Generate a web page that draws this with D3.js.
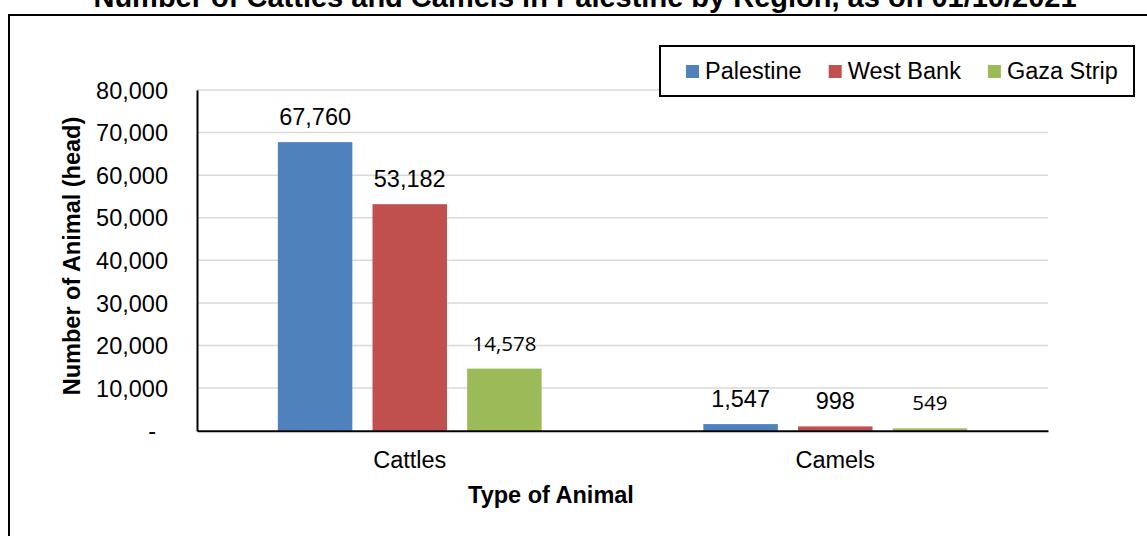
<!DOCTYPE html>
<html>
<head>
<meta charset="utf-8">
<script src="https://cdn.jsdelivr.net/npm/d3@7"></script>
<style>
  body { margin: 0; background: #fff; }
  svg { display: block; font-family: "Liberation Sans", Arial, sans-serif; }
</style>
</head>
<body>
<script>
/* DATA */
const categories = ["Cattles", "Camels"];
const seriesNames = ["Palestine", "West Bank", "Gaza Strip"];
const palestine = [67760, 1547];
const westBank = [53182, 998];
const gazaStrip = [14578, 549];
const yTicks = [0, 10000, 20000, 30000, 40000, 50000, 60000, 70000, 80000];

/* CONSTANTS */
const width = 1147;
const height = 536;
const margin = { top: 90, bottom: 105, left: 197, right: 99 };
const colors = ["#4F81BD", "#C0504D", "#9BBB59"];
const fontSize = 23.5;

// table built from the arrays above
const series = [palestine, westBank, gazaStrip];
const rows = categories.map((c, i) => ({
  cat: c,
  vals: seriesNames.map((s, j) => ({ name: s, value: series[j][i], idx: j }))
}));

const svg = d3.select("body").append("svg")
  .attr("width", width)
  .attr("height", height);

// outer chart border (runs off the right/bottom like the original)
svg.append("rect")
  .attr("x", 9).attr("y", 15)
  .attr("width", 1160).attr("height", 560)
  .attr("fill", "none")
  .attr("stroke", "#000")
  .attr("stroke-width", 2);

// title, mostly clipped at the top
svg.append("text")
  .attr("x", 585).attr("y", 7)
  .attr("text-anchor", "middle")
  .attr("font-weight", "bold")
  .attr("font-size", 29)
  .text("Number of Cattles and Camels in Palestine by Region, as on 01/10/2021");

//SCALES
const x0 = d3.scaleBand()
  .domain(categories)
  .range([margin.left, width - margin.right])
  .paddingInner(0.38)
  .paddingOuter(0.19);

const x1 = d3.scaleBand()
  .domain(seriesNames)
  .range([0, x0.bandwidth()])
  .paddingInner(0.213);

const y = d3.scaleLinear()
  .domain([0, 80000])
  .range([height - margin.bottom - 0.3, margin.top]);

//GRIDLINES
svg.append("g")
  .selectAll("line")
  .data(yTicks.filter(d => d > 0))
  .join("line")
  .attr("x1", margin.left)
  .attr("x2", width - margin.right)
  .attr("y1", d => y(d))
  .attr("y2", d => y(d))
  .attr("stroke", "#D9D9D9")
  .attr("stroke-width", 1.5);

//BARS
const groups = svg.append("g")
  .selectAll("g")
  .data(rows)
  .join("g")
  .attr("transform", d => "translate(" + x0(d.cat) + ",0)");

groups.selectAll("rect")
  .data(d => d.vals)
  .join("rect")
  .attr("x", d => x1(d.name))
  .attr("width", x1.bandwidth())
  .attr("y", d => y(d.value))
  .attr("height", d => y(0) - y(d.value))
  .attr("fill", d => colors[d.idx]);

// value labels - gaza labels are in a different font in the original
groups.selectAll("text")
  .data(d => d.vals)
  .join("text")
  .attr("x", d => x1(d.name) + x1.bandwidth() / 2)
  .attr("y", d => y(d.value) - (d.idx === 2 ? 18 : 17))
  .attr("text-anchor", "middle")
  .attr("font-size", d => d.idx === 2 ? 20.5 : fontSize)
  .attr("font-family", d => d.idx === 2 ? "'Open Sans', sans-serif" : null)
  .attr("fill", "#000")
  .text(d => d3.format(",")(d.value));

//Y-AXIS
const yAxis = d3.axisLeft(y)
  .tickValues(yTicks)
  .tickSize(0)
  .tickSizeOuter(0)
  .tickPadding(29)
  .tickFormat(d => d === 0 ? "-" : d3.format(",")(d));

const gy = svg.append("g")
  .attr("transform", "translate(" + margin.left + ",0)")
  .call(yAxis)
  .attr("font-family", null)
  .attr("font-size", null);
gy.select(".domain").attr("stroke", "#000").attr("stroke-width", 2);
gy.selectAll("text")
  .attr("font-size", fontSize)
  .attr("fill", "#000")
  .attr("dy", "0.35em")
  .attr("dx", d => d === 0 ? -12 : 0);

//X-AXIS
const xAxis = d3.axisBottom(x0)
  .tickSize(0)
  .tickSizeOuter(0);

const gx = svg.append("g")
  .attr("transform", "translate(0," + y(0) + ")")
  .call(xAxis)
  .attr("font-family", null)
  .attr("font-size", null);
gx.select(".domain").attr("stroke", "#000").attr("stroke-width", 2);
gx.selectAll("text")
  .attr("font-size", fontSize)
  .attr("fill", "#000")
  .attr("y", 37)
  .attr("dy", 0);

//AXIS TITLES
svg.append("text")
  .attr("transform", "translate(80,256) rotate(-90)")
  .attr("text-anchor", "middle")
  .attr("font-weight", "bold")
  .attr("font-size", fontSize)
  .text("Number of Animal (head)");

svg.append("text")
  .attr("x", 551).attr("y", 503)
  .attr("text-anchor", "middle")
  .attr("font-weight", "bold")
  .attr("font-size", fontSize)
  .text("Type of Animal");

//LEGEND
const legend = svg.append("g");
legend.append("rect")
  .attr("x", 660).attr("y", 46)
  .attr("width", 474).attr("height", 50)
  .attr("fill", "#fff")
  .attr("stroke", "#000")
  .attr("stroke-width", 2);

let lx = 686;
seriesNames.forEach((s, i) => {
  legend.append("rect")
    .attr("x", lx).attr("y", 65)
    .attr("width", 13).attr("height", 13)
    .attr("fill", colors[i]);
  const t = legend.append("text")
    .attr("x", lx + 19).attr("y", 79)
    .attr("font-size", fontSize)
    .text(s);
  lx = lx + 19 + t.node().getComputedTextLength() + 27;
});
</script>
</body>
</html>
